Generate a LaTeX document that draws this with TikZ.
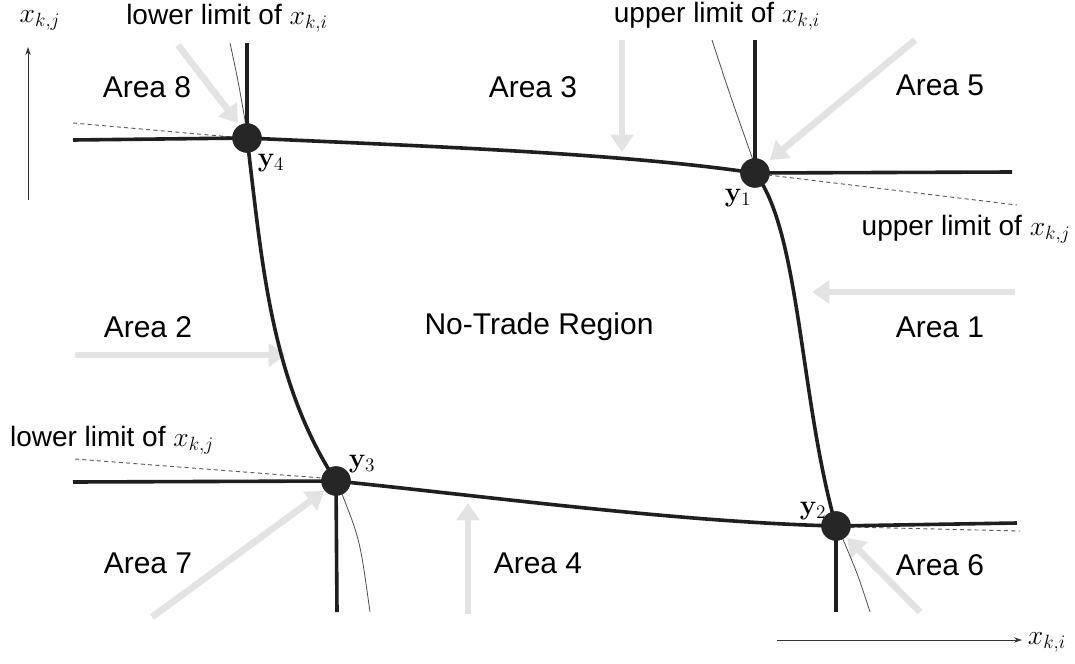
\documentclass[tikz,border=0pt]{standalone}
\usepackage[no-math]{fontspec}
\setmainfont{Liberation Sans}
\usetikzlibrary{arrows.meta}
\tikzset{
  bound/.style={line width=2.7pt, black!88},
  dotnode/.style={circle, fill=black!85, inner sep=0pt, minimum size=22pt},
  garrow/.style={draw=black!11, line width=5pt, -{Triangle[length=13pt,width=17pt]}},
  thinline/.style={line width=0.6pt, black!70},
  dashline/.style={line width=0.7pt, black!65, dash pattern=on 3pt off 2.5pt},
  axisarrow/.style={line width=0.6pt, black!80, -{Stealth[length=6pt,width=4pt]}},
  area/.style={font=\fontsize{22.5}{26}\selectfont, inner sep=0pt},
  lim/.style={font=\fontsize{21}{25}\selectfont, inner sep=0pt},
  ylab/.style={font=\fontsize{22}{26}\selectfont, inner sep=0pt},
}
\begin{document}
\begin{tikzpicture}[x=0.75pt,y=-0.75pt]
\useasboundingbox (0,0) rectangle (1075,664);

% gray direction arrows
\coordinate (g8s) at (178,45);  \coordinate (g8e) at (238,123);
\coordinate (g3s) at (622,40);  \coordinate (g3e) at (622,152);
\coordinate (g5s) at (915,40);  \coordinate (g5e) at (770,160);
\coordinate (g1s) at (1015,292);\coordinate (g1e) at (812,292);
\coordinate (g2s) at (75,355);  \coordinate (g2e) at (286,355);
\coordinate (g7s) at (152,617); \coordinate (g7e) at (324,491);
\coordinate (g4s) at (468,614); \coordinate (g4e) at (468,503);
\coordinate (g6s) at (920,612); \coordinate (g6e) at (847,538);
\foreach \n in {8,3,5,1,2,7,4,6} \draw[garrow] (g\n s) -- (g\n e);

% corner dots
\node[dotnode] (y4) at (247,138) {};
\node[dotnode] (y1) at (755,173) {};
\node[dotnode] (y3) at (336,481) {};
\node[dotnode] (y2) at (836,526) {};

% free ends
\coordinate (l4) at (73,140);   \coordinate (u4) at (247,43);
\coordinate (r1) at (1012,172); \coordinate (u1) at (755,40);
\coordinate (l3) at (73,482);   \coordinate (d3) at (337,612);
\coordinate (r2) at (1017,523); \coordinate (d2) at (836,612);

% thin tangent curves
\draw[thinline] (230,43) .. controls (238,80) .. (246,126);
\draw[thinline] (712,40) .. controls (730,95) .. (753,160);
\draw[thinline] (342,494) .. controls (360,540) .. (370,612);
\draw[thinline] (842,537) .. controls (858,575) .. (870,612);

% dashed limit lines
\draw[dashline] (73,123) -- (232,137);
\draw[dashline] (768,175) -- (1017,205);
\draw[dashline] (75,459) -- (322,478);
\draw[dashline] (850,527) -- (1020,531);

% boundary
\draw[bound] (y4.center) .. controls (420,146) and (620,153) .. (y1.center);
\draw[bound] (y1.center) .. controls (800,230) and (800,400) .. (y2.center);
\draw[bound] (y3.center) .. controls (500,498) and (680,522) .. (y2.center);
\draw[bound] (y4.center) .. controls (262,260) and (270,380) .. (y3.center);
\draw[bound] (l4) -- (y4.center);
\draw[bound] (u4) -- (y4.center);
\draw[bound] (y1.center) -- (r1);
\draw[bound] (u1) -- (y1.center);
\draw[bound] (l3) -- (y3.center);
\draw[bound] (y3.center) -- (d3);
\draw[bound] (y2.center) -- (r2);
\draw[bound] (y2.center) -- (d2);
\node[dotnode] at (y4) {};
\node[dotnode] at (y1) {};
\node[dotnode] at (y3) {};
\node[dotnode] at (y2) {};

% point labels
\node[ylab] (ly4) at (271,163) {$\mathbf{y}_4$};
\node[ylab] (ly1) at (738,198) {$\mathbf{y}_1$};
\node[ylab] (ly3) at (362,464) {$\mathbf{y}_3$};
\node[ylab] (ly2) at (813,511) {$\mathbf{y}_2$};

% axes
\coordinate (vs) at (28,200); \coordinate (ve) at (28,47);
\draw[axisarrow] (vs) -- (ve);
\node[ylab] (xkj) at (40,20) {$x_{k,j}$};
\coordinate (hs) at (777,640); \coordinate (he) at (1022,640);
\draw[axisarrow] (hs) -- (he);
\node[ylab] (xki) at (1047,642) {$x_{k,i}$};

% limit labels
\node[lim] (t1) at (227,18) {lower limit of $x_{k,i}$};
\node[lim] (t2) at (717,16) {upper limit of $x_{k,i}$};
\node[lim] (t3) at (966,229) {upper limit of $x_{k,j}$};
\node[lim] (t4) at (112,440) {lower limit of $x_{k,j}$};

% areas
\node[area] (a8) at (147,87) {Area 8};
\node[area] (a3) at (533,87) {Area 3};
\node[area] (a5) at (940,85) {Area 5};
\node[area] (a2) at (148,327) {Area 2};
\node[area] (nt) at (539,327) {No-Trade Region};
\node[area] (a1) at (940,327) {Area 1};
\node[area] (a7) at (148,563) {Area 7};
\node[area] (a4) at (538,563) {Area 4};
\node[area] (a6) at (940,565) {Area 6};
\end{tikzpicture}
\end{document}
